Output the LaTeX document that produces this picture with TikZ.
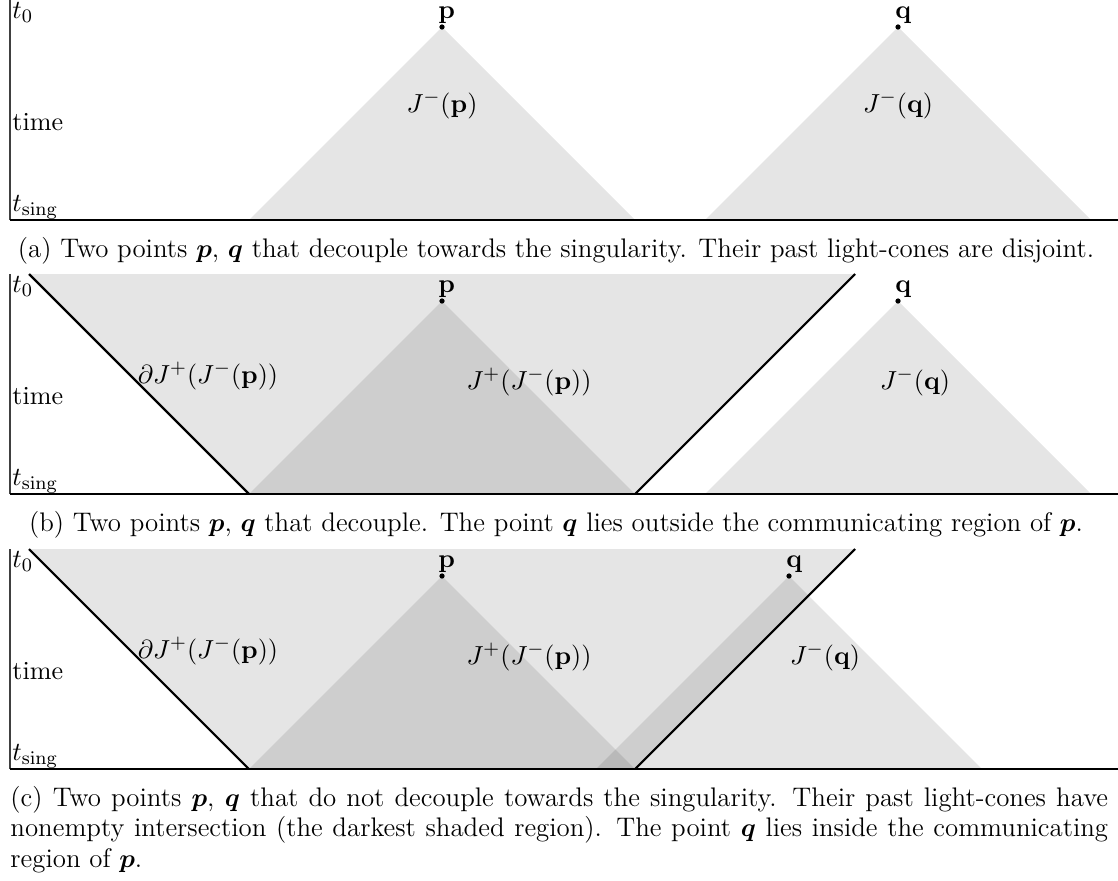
\documentclass[tikz,border=0pt]{standalone}
\usepackage{amsmath}
\begin{document}
\begin{tikzpicture}[x=0.42pt,y=-0.42pt,
  cone/.style={fill=black,fill opacity=0.1},
  bdline/.style={line width=0.9pt},
  axisv/.style={line width=0.5pt,black!75},
  axish/.style={line width=1pt},
  lbl/.style={font=\fontsize{10.95}{13}\selectfont,inner sep=0pt},
  ptlbl/.style={font=\fontsize{10.95}{13}\selectfont,inner sep=0pt,anchor=base west},
  captxt/.style={font=\fontsize{11.28}{12.7}\selectfont,inner sep=0pt},
  dot/.style={fill=black}]
\useasboundingbox (0,0) rectangle (1118,880);

% ---------------- panel (a)
\coordinate (pa) at (442,27);
\coordinate (qa) at (898,27);
\fill[cone] (pa) -- (249,220) -- (635,220) -- cycle;
\fill[cone] (qa) -- (705,220) -- (1091,220) -- cycle;
\draw[axisv] (10,0) -- (10,220);
\draw[axish] (10,220) -- (1118,220);
\fill[dot] (pa) circle (1.1pt);
\fill[dot] (qa) circle (1.1pt);
\node[ptlbl] (pla) at (438,18) {$\mathbf{p}$};
\node[ptlbl] (qla) at (895,18) {$\mathbf{q}$};
\node[lbl,anchor=north west] (t0a) at (12,2) {$t_0$};
\node[lbl,anchor=west] (tma) at (12,122) {time};
\node[lbl,anchor=west] (tsa) at (12,207) {$t_{\mathrm{sing}}$};
\node[lbl] (jpa) at (442,105) {$J^{-}(\mathbf{p})$};
\node[lbl] (jqa) at (898,105) {$J^{-}(\mathbf{q})$};
\node[captxt,anchor=base] (capa) at (556,257) {(a) Two points $\boldsymbol{p}$, $\boldsymbol{q}$ that decouple towards the singularity. Their past light-cones are disjoint.};

% ---------------- panel (b)
\coordinate (pb) at (442,301);
\coordinate (qb) at (898,301);
\coordinate (lbt) at (29,274);
\coordinate (lbb) at (249,494);
\coordinate (rbb) at (635,494);
\coordinate (rbt) at (855,274);
\fill[cone] (lbt) -- (lbb) -- (rbb) -- (rbt) -- cycle;
\fill[cone] (pb) -- (lbb) -- (rbb) -- cycle;
\fill[cone] (qb) -- (705,494) -- (1091,494) -- cycle;
\draw[bdline] (lbt) -- (lbb);
\draw[bdline] (rbb) -- (rbt);
\draw[axisv] (10,274) -- (10,494);
\draw[axish] (10,494) -- (1118,494);
\fill[dot] (pb) circle (1.1pt);
\fill[dot] (qb) circle (1.1pt);
\node[ptlbl] (plb) at (438,292) {$\mathbf{p}$};
\node[ptlbl] (qlb) at (895,292) {$\mathbf{q}$};
\node[lbl,anchor=north west] (t0b) at (12,276) {$t_0$};
\node[lbl,anchor=west] (tmb) at (12,396) {time};
\node[lbl,anchor=west] (tsb) at (12,481) {$t_{\mathrm{sing}}$};
\node[lbl] (dlb) at (208,376) {$\partial J^{+}(J^{-}(\mathbf{p}))$};
\node[lbl] (jpb) at (529,382) {$J^{+}(J^{-}(\mathbf{p}))$};
\node[lbl] (jqb) at (915,382) {$J^{-}(\mathbf{q})$};
\node[captxt,anchor=base] (capb) at (556,531) {(b) Two points $\boldsymbol{p}$, $\boldsymbol{q}$ that decouple. The point $\boldsymbol{q}$ lies outside the communicating region of $\boldsymbol{p}$.};

% ---------------- panel (c)
\coordinate (pc) at (442,576);
\coordinate (qc) at (789,576);
\coordinate (lct) at (29,549);
\coordinate (lcb) at (249,769);
\coordinate (rcb) at (635,769);
\coordinate (rct) at (855,549);
\fill[cone] (lct) -- (lcb) -- (rcb) -- (rct) -- cycle;
\fill[cone] (pc) -- (lcb) -- (rcb) -- cycle;
\fill[cone] (qc) -- (596,769) -- (982,769) -- cycle;
\draw[bdline] (lct) -- (lcb);
\draw[bdline] (rcb) -- (rct);
\draw[axisv] (10,549) -- (10,769);
\draw[axish] (10,769) -- (1118,769);
\fill[dot] (pc) circle (1.1pt);
\fill[dot] (qc) circle (1.1pt);
\node[ptlbl] (plc) at (438,567) {$\mathbf{p}$};
\node[ptlbl] (qlc) at (786,567) {$\mathbf{q}$};
\node[lbl,anchor=north west] (t0c) at (12,551) {$t_0$};
\node[lbl,anchor=west] (tmc) at (12,671) {time};
\node[lbl,anchor=west] (tsc) at (12,756) {$t_{\mathrm{sing}}$};
\node[lbl] (dlc) at (208,651) {$\partial J^{+}(J^{-}(\mathbf{p}))$};
\node[lbl] (jpc) at (529,657) {$J^{+}(J^{-}(\mathbf{p}))$};
\node[lbl] (jqc) at (825,657) {$J^{-}(\mathbf{q})$};
\node[captxt,anchor=north west,text width=461pt,align=justify] (capc) at (10,786) {(c) Two points $\boldsymbol{p}$, $\boldsymbol{q}$ that do not decouple towards the singularity. Their past light-cones have\linebreak nonempty intersection (the darkest shaded region). The point $\boldsymbol{q}$ lies inside the communicating\linebreak region of $\boldsymbol{p}$.};
\end{tikzpicture}
\end{document}
